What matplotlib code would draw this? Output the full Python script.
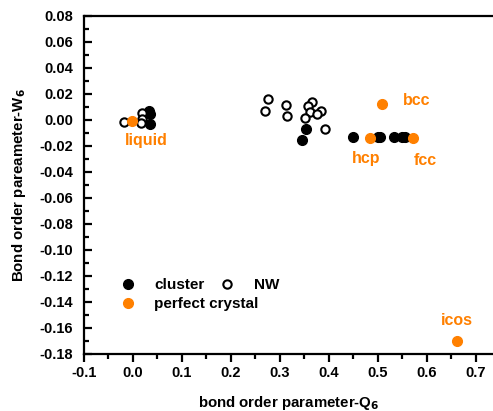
import numpy as np
import matplotlib.pyplot as plt
from matplotlib.ticker import MultipleLocator

plt.rcParams['font.family'] = ['Liberation Sans', 'DejaVu Sans']
plt.rcParams['font.weight'] = 'bold'

orange = '#ff8000'

# cluster (filled black)
cluster_q = [0.033, 0.035, 0.034, 0.353, 0.345, 0.450, 0.4997, 0.5046, 0.532, 0.549, 0.556]
cluster_w = [0.007, 0.0045, -0.003, -0.0072, -0.0154, -0.0133, -0.0133, -0.0133, -0.0133, -0.0133, -0.0133]

# nanowire (open circles)
nw_q = [-0.018, 0.018, 0.019, 0.017, 0.2765, 0.2697, 0.312, 0.314, 0.366, 0.358,
        0.383, 0.362, 0.375, 0.351, 0.393]
nw_w = [-0.0015, 0.0055, 0.001, -0.002, 0.0162, 0.0072, 0.0115, 0.0033, 0.0141, 0.011,
        0.0072, 0.0064, 0.0044, 0.0013, -0.0069]

# perfect crystals
crystal_names = ['liquid', 'hcp', 'fcc', 'bcc', 'icos']
crystal_q = [-0.001, 0.484, 0.5726, 0.509, 0.6625]
crystal_w = [-0.0008, -0.0135, -0.0135, 0.0123, -0.170]
label_offsets = [(0.028, -0.015), (-0.008, -0.016), (0.025, -0.018), (0.07, 0.003), (-0.002, 0.016)]

fig = plt.figure(figsize=(4.93, 4.11), dpi=100)
ax = fig.add_axes([0.1704, 0.1387, 0.8296, 0.8224])

ms = 7
h1, = ax.plot(cluster_q, cluster_w, 'o', color='black', ms=ms, ls='none', label='cluster')
h2, = ax.plot(nw_q, nw_w, 'o', mfc='white', mec='black', mew=1.5, ms=ms - 1, ls='none', label='NW')
h3, = ax.plot(crystal_q, crystal_w, 'o', color=orange, ms=ms, ls='none', label='perfect crystal')

for name, q, w, (dx, dy) in zip(crystal_names, crystal_q, crystal_w, label_offsets):
    ax.text(q + dx, w + dy, name, color=orange, fontsize=11.5, fontweight='bold',
            ha='center', va='center')

ax.set_xlim(-0.1, 0.735)
ax.set_ylim(-0.18, 0.08)
ax.xaxis.set_major_locator(MultipleLocator(0.1))
ax.xaxis.set_minor_locator(MultipleLocator(0.05))
ax.yaxis.set_major_locator(MultipleLocator(0.02))
ax.yaxis.set_minor_locator(MultipleLocator(0.01))
ax.xaxis.set_major_formatter(plt.FuncFormatter(lambda v, p: f'{v:.1f}'))
ax.yaxis.set_major_formatter(plt.FuncFormatter(lambda v, p: f'{v:.2f}'))

ax.spines['right'].set_visible(False)
for s in ['left', 'bottom', 'top']:
    ax.spines[s].set_linewidth(1.6)
ax.tick_params(axis='x', which='major', direction='out', length=6, width=1.6, labelsize=10.5, pad=3)
ax.tick_params(axis='x', which='minor', direction='out', length=3.5, width=1.6)
ax.tick_params(axis='y', which='major', direction='in', length=6, width=1.6, labelsize=10.5, pad=8)
ax.tick_params(axis='y', which='minor', direction='in', length=3.5, width=1.6)
for lbl in ax.get_xticklabels() + ax.get_yticklabels():
    lbl.set_fontweight('bold')

ax.set_xlabel('bond order parameter-Q$_6$', fontsize=10.8, fontweight='bold', labelpad=10)
ax.set_ylabel('Bond order pareameter-W$_6$', fontsize=10.8, fontweight='bold', labelpad=8)

legend_kw = dict(frameon=False, prop={'weight': 'bold', 'size': 11},
                 handletextpad=1.0, labelspacing=0.3, borderpad=0, handlelength=1.5)
leg1 = ax.legend(handles=[h1, h3], loc='upper left', bbox_to_anchor=(0.06, 0.246), **legend_kw)
ax.add_artist(leg1)
ax.legend(handles=[h2], loc='upper left', bbox_to_anchor=(0.304, 0.246), **legend_kw)

fig.savefig('out.png', dpi=100)
